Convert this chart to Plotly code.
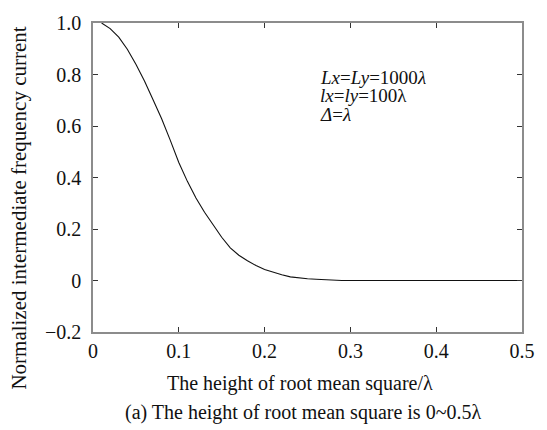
import plotly.graph_objects as go

rms_height = [0.01, 0.02, 0.03, 0.04, 0.05, 0.06, 0.07, 0.08, 0.09, 0.10,
              0.11, 0.12, 0.13, 0.14, 0.15, 0.16, 0.17, 0.18, 0.19, 0.20,
              0.21, 0.22, 0.23, 0.24, 0.25, 0.26, 0.27, 0.28, 0.29, 0.30,
              0.31, 0.32, 0.33, 0.34, 0.35, 0.36, 0.37, 0.38, 0.39, 0.40,
              0.41, 0.42, 0.43, 0.44, 0.45, 0.46, 0.47, 0.48, 0.49, 0.50]
norm_current = [1.000, 0.978, 0.945, 0.898, 0.840, 0.775, 0.702, 0.628, 0.545, 0.458,
                0.385, 0.320, 0.265, 0.215, 0.168, 0.127, 0.098, 0.077, 0.058, 0.043,
                0.032, 0.022, 0.014, 0.010, 0.007, 0.005, 0.003, 0.001, 0.000, 0.000,
                0.000, 0.001, 0.000, -0.001, 0.000, 0.000, 0.001, 0.000, 0.000, 0.000,
                -0.001, 0.000, 0.001, 0.000, 0.000, 0.000, 0.001, 0.000, 0.000, 0.000]

x_ticks = [0, 0.1, 0.2, 0.3, 0.4, 0.5]
x_tick_labels = ["0", "0.1", "0.2", "0.3", "0.4", "0.5"]
y_ticks = [-0.2, 0, 0.2, 0.4, 0.6, 0.8, 1.0]
y_tick_labels = ["\u22120.2", "0", "0.2", "0.4", "0.6", "0.8", "1.0"]

params = ["<i>Lx</i>=<i>Ly</i>=1000<i>\u03bb</i>",
          "<i>lx</i>=<i>ly</i>=100\u03bb",
          "<i>\u0394</i>=<i>\u03bb</i>"]
param_y = [0.79, 0.717, 0.643]

FONT = "Liberation Serif, Times New Roman, serif"

fig = go.Figure()
fig.add_trace(go.Scatter(x=rms_height, y=norm_current, mode="lines",
                         line=dict(color="#111111", width=1.1), showlegend=False))

axis_common = dict(showline=True, linecolor="#8c8c8c", linewidth=1.6, mirror="ticks",
                   ticks="inside", ticklen=5, tickcolor="#333333", tickwidth=1,
                   showgrid=False, zeroline=False,
                   tickfont=dict(family=FONT, size=20, color="#111111"))

fig.update_xaxes(range=[0, 0.5], tickvals=x_ticks, ticktext=x_tick_labels,
                 ticklabelstandoff=0, **axis_common)
fig.update_yaxes(range=[-0.2, 1.0], tickvals=y_ticks, ticktext=y_tick_labels,
                 ticklabelstandoff=6, **axis_common)

annos = []
for txt, yv in zip(params, param_y):
    annos.append(dict(x=0.262, y=yv, xref="x", yref="y",
                      text=txt, showarrow=False, xanchor="left", yanchor="middle",
                      font=dict(family=FONT, size=19, color="#111111")))
annos.append(dict(x=-0.172, y=0.40, xref="paper", yref="paper", textangle=-90,
                  text="Normalized intermediate frequency current", showarrow=False,
                  xanchor="center", yanchor="middle",
                  font=dict(family=FONT, size=21, color="#111111")))
annos.append(dict(x=0.482, y=-0.168, xref="paper", yref="paper",
                  text="The height of root mean square/\u03bb", showarrow=False,
                  xanchor="center", yanchor="middle",
                  font=dict(family=FONT, size=20, color="#111111")))
annos.append(dict(x=0.49, y=-0.261, xref="paper", yref="paper",
                  text="(a) The height of root mean square is 0~0.5\u03bb", showarrow=False,
                  xanchor="center", yanchor="middle",
                  font=dict(family=FONT, size=20, color="#111111")))

fig.update_layout(width=547, height=430, margin=dict(l=93, r=19, t=22, b=98),
                  paper_bgcolor="white", plot_bgcolor="white", annotations=annos)

fig.write_html("out.html")
